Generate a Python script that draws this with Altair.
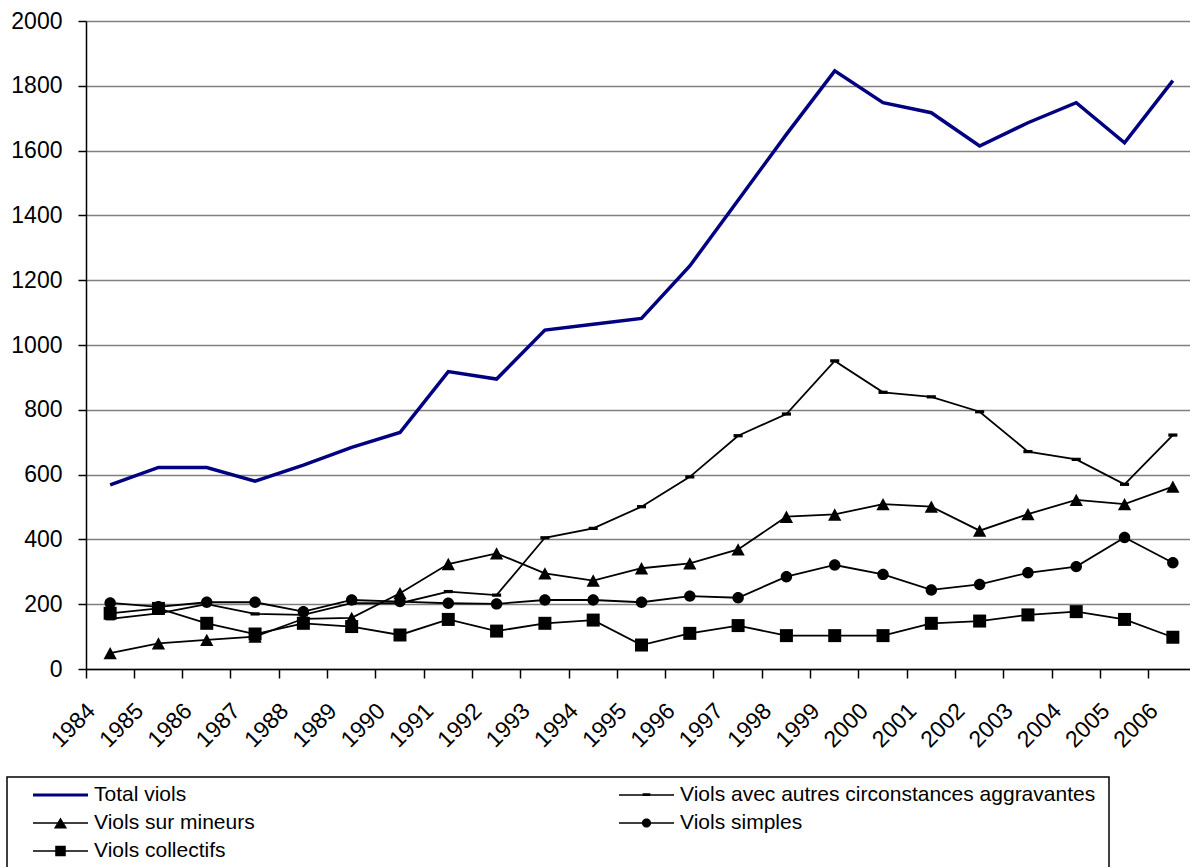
import altair as alt
import pandas as pd

years = [str(y) for y in range(1984, 2007)]

total = [568, 622, 622, 580, 629, 684, 730, 918, 895, 1046, 1064, 1082,
         1244, 1447, 1650, 1846, 1748, 1717, 1614, 1686, 1748, 1624, 1816]
autres = [155, 172, 200, 170, 167, 203, 203, 239, 228, 405, 434, 501,
          593, 720, 787, 951, 854, 840, 794, 671, 647, 570, 722]
mineurs = [49, 79, 90, 100, 155, 158, 234, 324, 357, 295, 273, 311,
           326, 369, 470, 477, 509, 501, 427, 478, 522, 509, 563]
simples = [204, 192, 206, 206, 177, 213, 208, 203, 201, 213, 213, 206,
           225, 220, 285, 321, 292, 244, 261, 297, 316, 406, 328]
collectifs = [172, 187, 141, 108, 141, 131, 105, 153, 117, 141, 151, 74,
              110, 134, 103, 103, 103, 141, 148, 167, 177, 153, 98]

S_TOTAL = "Total viols"
S_AUTRES = "Viols avec autres circonstances aggravantes"
S_MINEURS = "Viols sur mineurs"
S_SIMPLES = "Viols simples"
S_COLL = "Viols collectifs"
series_order = [S_TOTAL, S_AUTRES, S_MINEURS, S_SIMPLES, S_COLL]
series_colors = ["#000080", "black", "black", "black", "black"]

y_ticks = list(range(0, 2001, 200))

rows = []
for name, vals in zip(series_order, [total, autres, mineurs, simples, collectifs]):
    for yr, v in zip(years, vals):
        rows.append({"year": yr, "series": name, "value": v})
df = pd.DataFrame(rows)

FONT = "Liberation Sans"

# marker shapes (plot)
M_DASH = "M-0.7,-0.25H0.7V0.25H-0.7Z"
M_TRI = "M0,-0.95L1.02,0.95H-1.02Z"
M_CIRC = "M-0.88,0A0.88,0.88,0,1,1,0.88,0A0.88,0.88,0,1,1,-0.88,0Z"
M_SQ = "M-1,-1H1V1H-1Z"

# legend symbols: line + marker
LINE_THICK = "M-1,-0.14H4V0.14H-1Z"
LINE_THIN = "M-1,-0.065H4V0.065H-1Z"
legend_paths = [
    LINE_THICK,
    LINE_THIN + " M1.15,-0.17H1.85V0.1H1.15Z",
    LINE_THIN + " M1.5,-0.5L2.1,0.5H0.9Z",
    LINE_THIN + " M1.08,0A0.42,0.42,0,1,1,1.92,0A0.42,0.42,0,1,1,1.08,0Z",
    LINE_THIN + " M1.02,-0.48H1.98V0.48H1.02Z",
]

x_enc = alt.X(
    "year:O",
    title=None,
    scale=alt.Scale(type="band", paddingInner=0, paddingOuter=0),
    axis=alt.Axis(
        bandPosition=0,
        labelAngle=315,
        labelAlign="right",
        labelBaseline="middle",
        labelOffset=-18.5,
        labelPadding=29,
        labelOverlap=False,
        labelFont=FONT,
        labelFontSize=23,
        labelColor="black",
        tickSize=9,
        tickColor="black",
        tickWidth=1.5,
        domainColor="black",
        domainWidth=1.5,
        grid=False,
    ),
)
y_enc = alt.Y(
    "value:Q",
    title=None,
    scale=alt.Scale(domain=[0, 2000], nice=False),
    axis=alt.Axis(
        values=y_ticks,
        format="d",
        labelFont=FONT,
        labelFontSize=23,
        labelColor="black",
        labelPadding=16,
        tickSize=8,
        tickColor="black",
        tickWidth=1.5,
        domainColor="black",
        domainWidth=1.5,
        grid=True,
        gridColor="#808080",
        gridWidth=1.5,
    ),
)

base = alt.Chart(df).encode(x=x_enc, y=y_enc)

other_lines = base.transform_filter(
    alt.datum.series != S_TOTAL
).mark_line(color="black", strokeWidth=1.8).encode(detail="series:N")

total_line = base.transform_filter(
    alt.datum.series == S_TOTAL
).mark_line(color="#000080", strokeWidth=3.5)


def markers(series_name, path):
    return base.transform_filter(alt.datum.series == series_name).mark_point(
        shape=path, size=169, filled=True, color="black", opacity=1
    )


m_autres = markers(S_AUTRES, M_DASH)
m_mineurs = markers(S_MINEURS, M_TRI)
m_simples = markers(S_SIMPLES, M_CIRC)
m_coll = markers(S_COLL, M_SQ)

legend_def = alt.Legend(
    title=None,
    orient="none",
    direction="horizontal",
    legendX=-53,
    legendY=763,
    columns=2,
    columnPadding=364,
    rowPadding=7,
    padding=0,
    symbolSize=484,
    symbolStrokeWidth=0,
    symbolOpacity=1,
    labelFont=FONT,
    labelFontSize=21,
    labelColor="black",
    labelOffset=39,
    labelLimit=800,
)

legend_layer = base.mark_point(filled=True, opacity=0).encode(
    color=alt.Color("series:N", scale=alt.Scale(domain=series_order, range=series_colors),
                    legend=legend_def),
    shape=alt.Shape("series:N", scale=alt.Scale(domain=series_order, range=legend_paths),
                    legend=legend_def),
)

frame = alt.Chart(pd.DataFrame({"k": [0]})).mark_rect(
    filled=False, color="black", strokeWidth=1.5
).encode(x=alt.value(-79), x2=alt.value(1023), y=alt.value(756), y2=alt.value(900))

chart = alt.layer(
    other_lines, m_autres, m_mineurs, m_simples, m_coll, total_line, legend_layer, frame
).properties(
    width=1111,
    height=648,
    autosize=alt.AutoSizeParams(type="none"),
    padding={"left": 86, "top": 21, "right": -7, "bottom": 198},
    background="white",
).configure_view(stroke="transparent")

chart.save("out.html", embed_options={"renderer": "svg", "actions": False})
